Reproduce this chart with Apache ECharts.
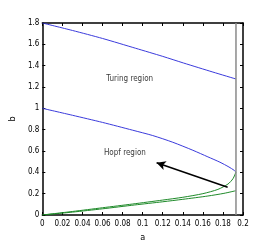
<!DOCTYPE html>
<html><head><meta charset="utf-8">
<script src="https://cdn.jsdelivr.net/npm/echarts@6/dist/echarts.min.js"></script>
<style>html,body{margin:0;padding:0;background:#fff}#c{width:262px;height:248px}</style>
</head><body><div id="c"></div>
<script>
// Upper Turing boundary (blue)
const turingTop = [[0,1.8],[0.03,1.73],[0.06,1.655],[0.093,1.563],[0.12,1.487],[0.1407,1.425],[0.17,1.34],[0.193,1.275]];
// Lower blue branch
const blueLower = [[0,1.0],[0.03,0.935],[0.06,0.868],[0.09,0.795],[0.11,0.745],[0.13,0.682],[0.15,0.607],[0.165,0.545],[0.177,0.495],[0.186,0.45],[0.191,0.42],[0.193,0.403]];
// Upper green branch (joins blue at the nose)
const greenUpper = [[0,0],[0.03,0.033],[0.06,0.068],[0.09,0.103],[0.12,0.14],[0.14,0.166],[0.16,0.2],[0.175,0.24],[0.185,0.29],[0.19,0.34],[0.193,0.403]];
// Lower green curve
const greenLower = [[0,0],[0.03,0.027],[0.06,0.058],[0.092,0.094],[0.12,0.124],[0.14,0.147],[0.165,0.178],[0.181,0.203],[0.193,0.228]];
// Vertical boundary
const vLine = [[0.193,0],[0.193,1.8]];
// Arrow (tail -> head)
const arrow = [[0.1847,0.26],[0.1139,0.49]];
// Region labels
const regionLabels = [{name:'Turing region', value:[0.0871,1.275]},{name:'Hopf region', value:[0.0823,0.58]}];
const xTicks = {min:0, max:0.2, interval:0.02};
const yTicks = {min:0, max:1.8, interval:0.2};

const F = "'Liberation Sans Narrow','DejaVu Sans Condensed','Arial Narrow','Liberation Sans',sans-serif";
const chart = echarts.init(document.getElementById('c'), null, {renderer:'canvas'});
const axLine = () => ({show:true, onZero:false, lineStyle:{color:'#000', width:1.5}});
const tick = () => ({show:true, inside:true, length:3, lineStyle:{color:'#000'}});
const sm = {smooth:0.25, showSymbol:false};
chart.setOption({
  animation:false,
  backgroundColor:'#fff',
  grid:{left:34, right:19, top:23, bottom:33},
  xAxis:[
    {type:'value', min:xTicks.min, max:xTicks.max, interval:xTicks.interval, position:'bottom',
     name:'a', nameLocation:'middle', nameGap:15, nameTextStyle:{fontFamily:F, fontSize:9, color:'#000'},
     axisLine:axLine(), axisTick:tick(), splitLine:{show:false},
     axisLabel:{fontFamily:F, fontSize:8, color:'#000', margin:5}},
    {type:'value', min:xTicks.min, max:xTicks.max, interval:xTicks.interval, position:'top',
     axisLine:axLine(), axisTick:tick(), splitLine:{show:false}, axisLabel:{show:false}}
  ],
  yAxis:[
    {type:'value', min:yTicks.min, max:yTicks.max, interval:yTicks.interval, position:'left',
     name:'b', nameLocation:'middle', nameGap:9, nameRotate:90, nameTextStyle:{fontFamily:F, fontSize:9, color:'#000'},
     axisLine:axLine(), axisTick:tick(), splitLine:{show:false},
     axisLabel:{fontFamily:F, fontSize:8, color:'#000', margin:3}},
    {type:'value', min:yTicks.min, max:yTicks.max, interval:yTicks.interval, position:'right',
     axisLine:axLine(), axisTick:tick(), splitLine:{show:false}, axisLabel:{show:false}}
  ],
  series:[
    Object.assign({type:'line', data:turingTop, lineStyle:{color:'#3b3bdc', width:1}}, sm),
    Object.assign({type:'line', data:blueLower, lineStyle:{color:'#3b3bdc', width:1}}, sm),
    Object.assign({type:'line', data:greenUpper, lineStyle:{color:'#1f8a2a', width:1}}, sm),
    Object.assign({type:'line', data:greenLower, lineStyle:{color:'#1f8a2a', width:1}}, sm),
    {type:'line', data:vLine, xAxisIndex:1, yAxisIndex:1, showSymbol:false, lineStyle:{color:'#8a8a8a', width:1.5}},
    {type:'line', data:[], markLine:{silent:true, symbol:['none','arrow'], symbolSize:[7,9],
      lineStyle:{color:'#000', width:1.5, type:'solid'}, label:{show:false},
      data:[[{coord:arrow[0]},{coord:arrow[1]}]]}},
    {type:'scatter', data:regionLabels, symbolSize:0,
     label:{show:true, position:'inside', formatter:'{b}', fontFamily:F, fontSize:8, color:'#000'}}
  ]
});
</script></body></html>
